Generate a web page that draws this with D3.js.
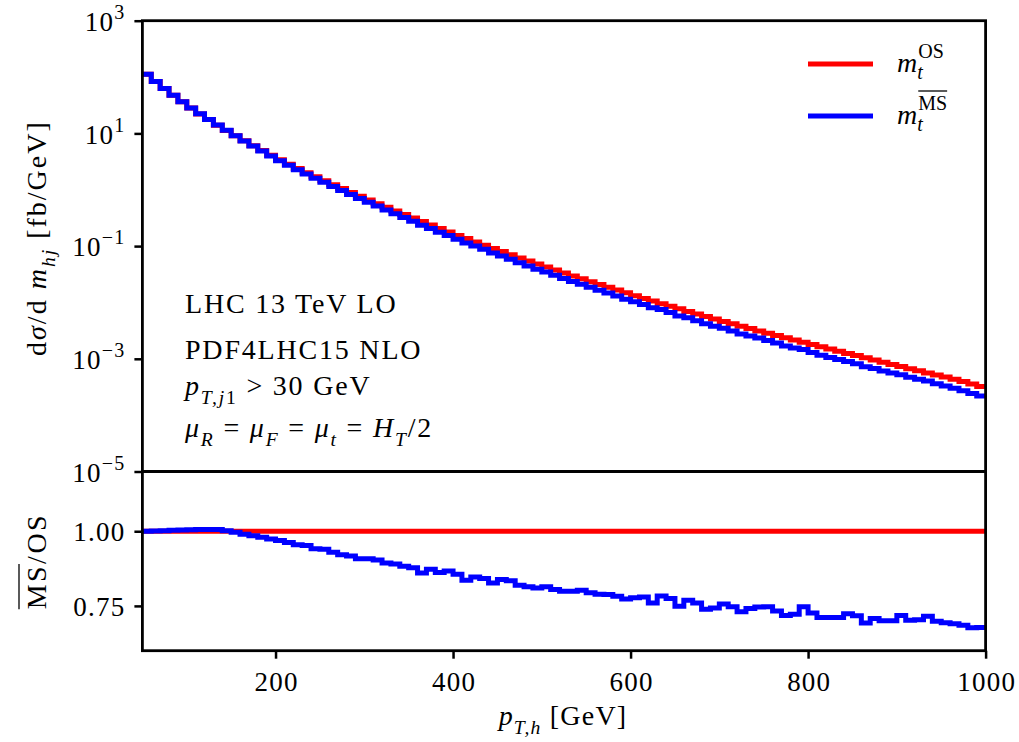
<!DOCTYPE html>
<html><head><meta charset="utf-8">
<script src="https://cdn.jsdelivr.net/npm/d3@7"></script>
<style>
body{margin:0;background:#fff}
svg{display:block}
text{font-family:"Liberation Serif","DejaVu Serif",serif;fill:#000}
</style>
</head><body>
<svg id="c" width="1019" height="742"></svg>
<script>
// ---------------- data ----------------
const binEdges = [50,60,70,80,90,100,110,120,130,140,150,160,170,180,190,200,210,220,230,240,
  250,260,270,280,290,300,310,320,330,340,350,360,370,380,390,400,410,420,430,440,
  450,460,470,480,490,500,510,520,530,540,550,560,570,580,590,600,610,620,630,640,
  650,660,670,680,690,700,710,720,730,740,750,760,770,780,790,800,810,820,830,840,
  850,860,870,880,890,900,910,920,930,940,950,960,970,980,990,1000];
// dσ/dp_T with on-shell top mass [fb/GeV]
const osValues = [112, 83.2, 62.4, 47.3, 36.3, 28.2, 22.1, 17.6, 14.0, 11.3,
 9.12, 7.41, 6.05, 4.97, 4.09, 3.39, 2.83, 2.38, 2.00, 1.70,
 1.44, 1.23, 1.05, 0.895, 0.767, 0.659, 0.567, 0.488, 0.421, 0.363,
 0.314, 0.272, 0.236, 0.205, 0.178, 0.155, 0.136, 0.118, 0.104, 0.0909,
 0.0798, 0.0701, 0.0618, 0.0545, 0.0481, 0.0426, 0.0377, 0.0334, 0.0296, 0.0263,
 0.0234, 0.0208, 0.0186, 0.0166, 0.0148, 0.0132, 0.0118, 0.0106, 0.00953, 0.00856,
 0.00770, 0.00693, 0.00625, 0.00564, 0.00510, 0.00461, 0.00418, 0.00379, 0.00344, 0.00313,
 0.00284, 0.00259, 0.00236, 0.00215, 0.00196, 0.00179, 0.00163, 0.00149, 0.00136, 0.00124,
 0.00114, 0.00104, 0.000950, 0.000869, 0.000796, 0.000729, 0.000668, 0.000613, 0.000562, 0.000516,
 0.000473, 0.000435, 0.000396, 0.000358, 0.000324];
// MSbar / OS ratio per bin
const ratioValues = [1.000,1.001,1.002,1.003,1.004,1.005,1.006,1.006,1.006,1.002,
 0.997,0.990,0.985,0.980,0.974,0.969,0.962,0.955,0.952,0.941,
 0.940,0.930,0.921,0.917,0.908,0.908,0.904,0.894,0.890,0.883,
 0.878,0.860,0.873,0.862,0.867,0.856,0.836,0.847,0.842,0.827,
 0.838,0.834,0.819,0.814,0.810,0.814,0.805,0.799,0.799,0.802,
 0.794,0.789,0.788,0.782,0.773,0.777,0.780,0.760,0.783,0.775,
 0.749,0.769,0.760,0.739,0.743,0.756,0.747,0.730,0.741,0.746,
 0.747,0.733,0.718,0.722,0.747,0.726,0.711,0.711,0.711,0.724,
 0.717,0.693,0.708,0.700,0.700,0.718,0.702,0.704,0.715,0.699,
 0.694,0.690,0.685,0.677,0.678];
const msValues = osValues.map((v, i) => v * ratioValues[i]);
const osRatio = osValues.map(v => v / v);

const xTicks = [200, 400, 600, 800, 1000];
const yTicksTop = [1e3, 1e1, 1e-1, 1e-3, 1e-5];
const yTickExps = ["3", "1", "\u22121", "\u22123", "\u22125"];
const ratioTicks = [0.75, 1.00];

// ---------------- layout ----------------
const L = 142.4, R = 985.6, T = 20.7, M = 471.5, B = 650.7;
const svg = d3.select("#c");
const RED = "#ff0000", BLUE = "#0000ff";
const LW = 5;

const x = d3.scaleLinear().domain([50, 1000]).range([L, R]);
const yTop = d3.scaleLog().domain([1e-5, 1e3]).range([M, T]);
const yRat = d3.scaleLinear().domain([0.6, 1.2]).range([B, M]);

const defs = svg.append("defs");
defs.append("clipPath").attr("id", "clipTop").append("rect")
  .attr("x", L).attr("y", T).attr("width", R - L).attr("height", M - T);
defs.append("clipPath").attr("id", "clipBot").append("rect")
  .attr("x", L).attr("y", M).attr("width", R - L).attr("height", B - M);

function stepPts(vals) {
  const pts = vals.map((v, i) => [binEdges[i], v]);
  pts.push([binEdges[binEdges.length - 1], vals[vals.length - 1]]);
  return pts;
}
const lineTop = d3.line().x(d => x(d[0])).y(d => yTop(d[1])).curve(d3.curveStepAfter);
const lineRat = d3.line().x(d => x(d[0])).y(d => yRat(d[1])).curve(d3.curveStepAfter);

const gTop = svg.append("g").attr("clip-path", "url(#clipTop)");
gTop.append("path").attr("d", lineTop(stepPts(osValues))).attr("fill", "none")
  .attr("stroke", RED).attr("stroke-width", LW);
gTop.append("path").attr("d", lineTop(stepPts(msValues))).attr("fill", "none")
  .attr("stroke", BLUE).attr("stroke-width", LW);

const gBot = svg.append("g").attr("clip-path", "url(#clipBot)");
gBot.append("path").attr("d", lineRat(stepPts(osRatio))).attr("fill", "none")
  .attr("stroke", RED).attr("stroke-width", LW);
gBot.append("path").attr("d", lineRat(stepPts(ratioValues))).attr("fill", "none")
  .attr("stroke", BLUE).attr("stroke-width", LW);

// ---------------- axes ----------------
const FS_TICK = 27, LS_TICK = 1.2;
const axX = svg.append("g").attr("transform", `translate(0,${B})`)
  .call(d3.axisBottom(x).tickValues(xTicks).tickSize(8).tickPadding(8).tickFormat(d3.format("d")));
const axYTop = svg.append("g").attr("transform", `translate(${L},0)`)
  .call(d3.axisLeft(yTop).tickValues(yTicksTop).tickSize(8).tickPadding(9).tickFormat(() => ""));
const axYRat = svg.append("g").attr("transform", `translate(${L},0)`)
  .call(d3.axisLeft(yRat).tickValues(ratioTicks).tickSize(8).tickPadding(9).tickFormat(d3.format(".2f")));
[axX, axYTop, axYRat].forEach(a => {
  a.select(".domain").remove();
  a.selectAll(".tick line").attr("stroke", "#000").attr("stroke-width", 2.5);
  a.selectAll(".tick text").style("font-size", FS_TICK + "px").attr("fill", "#000")
    .style("letter-spacing", LS_TICK + "px")
    .style("font-family", '"Liberation Serif", serif');
});
axX.selectAll(".tick text").attr("dy", "0.9em").attr("dx", LS_TICK / 2);
axYRat.selectAll(".tick text").attr("dy", "0.34em");
// power-of-ten labels for the log axis
axYTop.selectAll(".tick text").each(function(d, i) {
  const t = d3.select(this).attr("dy", "0.36em");
  t.append("tspan").text("10");
  t.append("tspan").text(yTickExps[i]).style("font-size", "20px").attr("dy", "-0.6em");
});

// frames
const frame = svg.append("g").attr("fill", "none").attr("stroke", "#000").attr("stroke-width", 2.8);
frame.append("rect").attr("x", L).attr("y", T).attr("width", R - L).attr("height", M - T);
frame.append("rect").attr("x", L).attr("y", M).attr("width", R - L).attr("height", B - M);

// ---------------- math text helper ----------------
function mathText(sel, parts, fs) {
  let shift = 0;
  const nodes = [];
  parts.forEach(p => {
    const target = p.s === "sub" ? fs * 0.32 : p.s === "sup" ? -fs * 0.42 : 0;
    const ts = sel.append("tspan").text(p.t)
      .attr("dy", target - shift)
      .style("font-style", p.i ? "italic" : "normal")
      .style("font-size", (p.s ? fs * 0.7 : fs) + "px");
    if (p.dx) ts.attr("dx", p.dx);
    shift = target;
    nodes.push(ts);
  });
  return nodes;
}
function overline(g, tspan, yOff) {
  const n = tspan.node();
  const c = n.getNumberOfChars();
  const a = n.getExtentOfChar(0), b = n.getExtentOfChar(c - 1);
  g.append("line").attr("x1", a.x).attr("x2", b.x + b.width)
    .attr("y1", a.y + yOff).attr("y2", a.y + yOff)
    .attr("stroke", "#000").attr("stroke-width", 1.3);
}

// ---------------- info text ----------------
const FS_TXT = 28;
const info = svg.append("g").style("letter-spacing", "1.8px");
info.append("text").attr("x", 185).attr("y", 313).style("font-size", FS_TXT + "px").text("LHC 13 TeV LO");
info.append("text").attr("x", 185).attr("y", 359).style("font-size", FS_TXT + "px").text("PDF4LHC15 NLO");
const t3 = info.append("text").attr("x", 185).attr("y", 395).style("font-size", FS_TXT + "px");
mathText(t3, [{t: "p", i: 1}, {t: "T,j", i: 1, s: "sub"}, {t: "1", s: "sub"}, {t: " > 30 GeV"}], FS_TXT);
const t4 = info.append("text").attr("x", 185).attr("y", 437).style("font-size", FS_TXT + "px");
mathText(t4, [{t: "μ", i: 1}, {t: "R", i: 1, s: "sub"}, {t: " = "}, {t: "μ", i: 1}, {t: "F", i: 1, s: "sub"},
  {t: " = "}, {t: "μ", i: 1}, {t: "t", i: 1, s: "sub"}, {t: " = "}, {t: "H", i: 1}, {t: "T", i: 1, s: "sub"}, {t: "/2"}], FS_TXT);

// ---------------- axis titles ----------------
const xl = svg.append("text").attr("x", 563).attr("y", 725).attr("text-anchor", "middle")
  .style("font-size", "28px").style("letter-spacing", "1.2px");
mathText(xl, [{t: "p", i: 1}, {t: "T,h", i: 1, s: "sub"}, {t: " [GeV]"}], 28);

const yl = svg.append("g").attr("transform", `translate(46,${(T + M) / 2 - 8}) rotate(-90)`);
const ylt = yl.append("text").attr("text-anchor", "middle").style("font-size", "28px").style("letter-spacing", "2px");
mathText(ylt, [{t: "d"}, {t: "σ", i: 1}, {t: "/d "}, {t: "m", i: 1}, {t: "hj", i: 1, s: "sub"}, {t: " [fb/GeV]"}], 28);

const rl = svg.append("g").attr("transform", `translate(46,${(M + B) / 2}) rotate(-90)`);
const rlt = rl.append("text").attr("text-anchor", "middle").style("font-size", "28px").style("letter-spacing", "2.5px");
const rparts = mathText(rlt, [{t: "MS"}, {t: "/OS"}], 28);
overline(rl, rparts[0], -2);

// ---------------- legend ----------------
const leg = svg.append("g");
[[RED, 64], [BLUE, 116]].forEach(([c, yy]) => {
  leg.append("line").attr("x1", 808).attr("x2", 873).attr("y1", yy).attr("y2", yy)
    .attr("stroke", c).attr("stroke-width", LW);
});
function legLabel(y, supText, over) {
  const t = leg.append("text").attr("x", 897).attr("y", y).style("font-size", "28px");
  t.append("tspan").text("m").style("font-style", "italic");
  const sub = t.append("tspan").text("t").style("font-style", "italic").style("font-size", "20px").attr("dy", 7);
  const w = sub.node().getComputedTextLength();
  const sup = t.append("tspan").text(supText).style("font-size", "20px").attr("dy", -21).attr("dx", -w + 1);
  if (over) overline(leg, sup, -1);
}
legLabel(72, "OS", false);
legLabel(124, "MS", true);
</script>
</body></html>
